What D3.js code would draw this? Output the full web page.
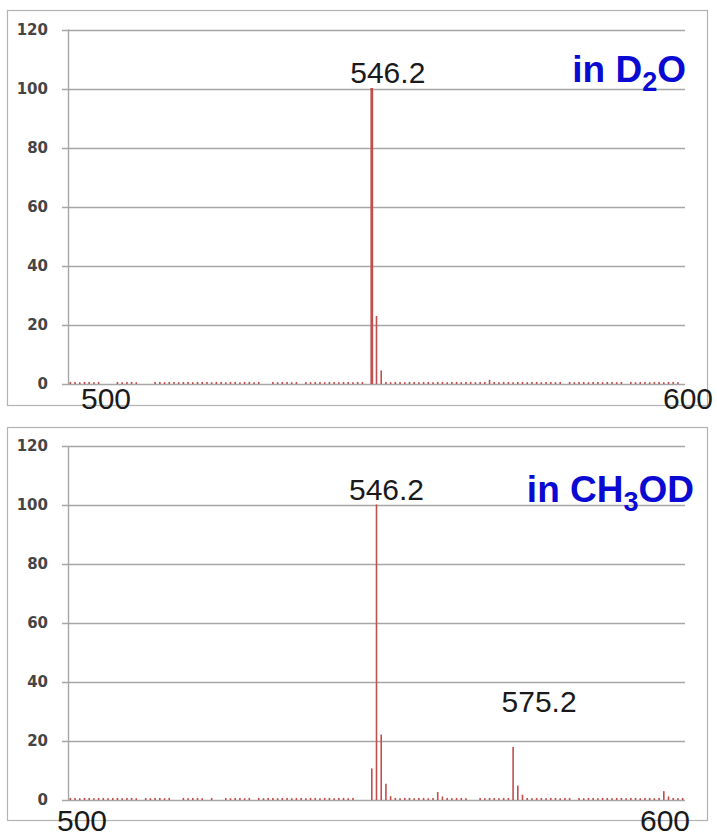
<!DOCTYPE html>
<html>
<head>
<meta charset="utf-8">
<script src="https://cdn.jsdelivr.net/npm/d3@7"></script>
<style>
  html, body { margin: 0; padding: 0; background: #fff; }
  svg { display: block; }
</style>
</head>
<body>
<svg id="chart" width="717" height="839"></svg>
<script>
// ---------- DATA ----------
const yTicks = [0, 20, 40, 60, 80, 100, 120];
const axisLabels = ["500", "600"];

// Panel 1: in D2O — m/z 482 … 612, one intensity per unit
const mzStartD2O = 482;
const intensityD2O = [
  0.5,0.5,0.4,0.5,0.5,0.4,0.5,            // 482-488
  0,0,0,                                  // 489-491
  0.5,0.4,0.5,0.5,0.4,                    // 492-496
  0,0,0,                                  // 497-499
  0.5,0.5,0.4,0.5,0.5,0.4,0.5,0.5,0.4,0.5,0.5,0.5,0.4,0.5,0.5,0.4,0.5,0.5,0.4,0.5,0.5,0.4,0.5, // 500-522
  0,0,                                    // 523-524
  0.5,0.4,0.5,0.5,0.4,0.5,                // 525-530
  0,                                      // 531
  0.5,0.4,0.5,0.5,0.4,0.5,0.5,0.4,0.5,0.5,0.4,0.5,0.5, // 532-544
  0,                                      // 545
  100, 22.8, 4.4,                         // 546-548
  0.5,0.4,0.5,0.5,0.4,0.5,0.5,0.4,0.5,0.5,0.4,0.5,0.5,0.4,0.5,0.5,0.4,0.5,0.5,0.4,0.5,0.5, // 549-570
  1.2,                                    // 571
  0.5,0.4,0.5,0.5,0.4,0.5,0.5,0.4,0.5,0.5,0.4,0.5,0.5,0.4,0.5, // 572-586
  0,                                      // 587
  0.5,0.4,0.5,0.5,0.4,0.5,0.5,0.4,0.5,0.5,0.4,0.5, // 588-599
  0,                                      // 600
  0.5,0.4,0.5,0.5,0.4,0.5,0.5,0.4,0.5,0.5,0.4, // 601-611
  0                                       // 612
];

// Panel 2: in CH3OD — m/z 481 … 611
const mzStartCH3OD = 481;
const intensityCH3OD = [
  0.5,0.5,0.4,0.5,0.5,0.4,0.5,0.5,0.4,0.5,0.5,0.4,0.5,0.5,0.4, // 481-495
  0,                                      // 496
  0.5,0.4,0.5,0.5,0.4,0.5,                // 497-502
  0,0,                                    // 503-504
  0.5,0.4,0.5,0.5,0.4,                    // 505-509
  0, 0.5, 0, 0,                           // 510-513
  0.5,0.4,0.5,0.5,0.4,0.5,                // 514-519
  0,                                      // 520
  0.5,0.4,0.5,0.5,0.4,0.5,0.5,0.4,0.5,0.5,0.4,0.5,0.5,0.4,0.5,0.5,0.4,0.5,0.5,0.4,0.5, // 521-541
  0,0,0,                                  // 542-544
  10.5, 100, 22, 5.3, 1.1,                // 545-549
  0.5,0.4,0.5,0.5,0.4,0.5,0.5,0.4,0.5,    // 550-558
  2.5, 1.0,                               // 559-560
  0.5,0.4,0.5,0.5,0.4,                    // 561-565
  0,0,                                    // 566-567
  0.5,0.4,0.5,0.5,0.4,0.5,0.5,            // 568-574
  17.8, 4.7, 1.6,                         // 575-577
  0.5,0.4,0.5,0.5,0.4,0.5,0.5,0.4,0.5,0.5, // 578-587
  0,                                      // 588
  0.5,0.4,0.5,0.5,0.4,0.5,0.5,0.4,0.5,0.5,0.4,0.5,0.5,0.4,0.5,0.5,0.4,0.5, // 589-606
  2.8, 1.0,                               // 607-608
  0.5,0.4,0.5                             // 609-611
];

const peakLabelsD2O = [{ mz: 546, text: "546.2" }];
const peakLabelsCH3OD = [{ mz: 546, text: "546.2" }, { mz: 575, text: "575.2" }];

// ---------- DRAWING ----------
const svg = d3.select("#chart");
const barColor = "#c0504d";
const gridColor = "#a6a6a6";

function toSeries(start, values) {
  return values.map((v, i) => ({ mz: start + i, y: v }));
}

function panel(cfg) {
  const g = svg.append("g");
  // outer frame
  g.append("rect")
    .attr("x", cfg.box[0] + 0.5).attr("y", cfg.box[1] + 0.5)
    .attr("width", cfg.box[2]).attr("height", cfg.box[3])
    .attr("fill", "none").attr("stroke", "#b3b3b3").attr("stroke-width", 1.2);

  const x = d3.scaleLinear().domain(cfg.xDomain).range([cfg.left, cfg.right]);
  const y = d3.scaleLinear().domain([0, 120]).range([cfg.bottom, cfg.top]);

  // gridlines
  g.append("g").selectAll("line").data(yTicks).join("line")
    .attr("x1", cfg.left - 6).attr("x2", cfg.right)
    .attr("y1", d => Math.round(y(d)) + 0.5).attr("y2", d => Math.round(y(d)) + 0.5)
    .attr("stroke", gridColor).attr("stroke-width", 1.4);

  // y axis labels
  const ax = g.append("g")
    .attr("transform", `translate(${cfg.left - 6},0)`)
    .call(d3.axisLeft(y).tickValues(yTicks).tickSize(0).tickPadding(14));
  ax.select(".domain").remove();
  ax.selectAll("text")
    .attr("font-family", "DejaVu Sans, Verdana, sans-serif")
    .attr("font-size", 15).attr("font-weight", "bold").attr("fill", "#454545");

  // y axis line
  g.append("line")
    .attr("x1", cfg.left + 0.5).attr("x2", cfg.left + 0.5)
    .attr("y1", y(120)).attr("y2", y(0))
    .attr("stroke", gridColor).attr("stroke-width", 1.4);

  // bars
  const data = toSeries(cfg.mzStart, cfg.values).filter(d => d.y > 0);
  g.append("g").selectAll("rect").data(data).join("rect")
    .attr("x", d => x(d.mz) - (d.y >= 50 && cfg.thickMain ? 1.4 : 0.8))
    .attr("width", d => (d.y >= 50 && cfg.thickMain ? 2.8 : 1.6))
    .attr("y", d => y(d.y) - 0.6)
    .attr("height", d => y(0) - y(d.y) + 0.6)
    .attr("fill", barColor);

  // peak labels
  g.append("g").selectAll("text").data(cfg.peaks).join("text")
    .attr("x", d => x(d.mz) + cfg.peakOffset[cfg.peaks.indexOf(d)])
    .attr("y", d => cfg.peakY[cfg.peaks.indexOf(d)])
    .attr("text-anchor", "middle")
    .attr("font-family", "Liberation Sans, Arial, sans-serif")
    .attr("font-size", 30).attr("fill", "#1a1a1a")
    .text(d => d.text);

  // "500" / "600" x labels
  g.append("g").selectAll("text").data(axisLabels).join("text")
    .attr("x", (d, i) => cfg.xLabelX[i])
    .attr("y", cfg.xLabelY)
    .attr("text-anchor", "middle")
    .attr("font-family", "Liberation Sans, Arial, sans-serif")
    .attr("font-size", 30).attr("fill", "#1a1a1a")
    .text(d => d);

  // title
  const t = g.append("text")
    .attr("x", cfg.titleX).attr("y", cfg.titleY)
    .attr("text-anchor", "end")
    .attr("font-family", "Liberation Sans, Arial, sans-serif")
    .attr("font-weight", "bold").attr("font-size", 37)
    .attr("fill", "#0a0ad2");
  cfg.title.forEach(p => {
    const ts = t.append("tspan").text(p.t);
    if (p.sub) ts.attr("font-size", 27).attr("dy", 9);
    else if (p.after) ts.attr("dy", -9);
  });
}

panel({
  box: [7, 10, 700, 395],
  left: 68, right: 685, top: 29.5, bottom: 384,
  xDomain: [481.5, 612.5],
  mzStart: mzStartD2O, values: intensityD2O,
  thickMain: true,
  peaks: peakLabelsD2O, peakOffset: [16], peakY: [83],
  xLabelX: [106, 688], xLabelY: 409,
  title: [{ t: "in D" }, { t: "2", sub: true }, { t: "O", after: true }],
  titleX: 686, titleY: 82
});

panel({
  box: [7, 427, 700, 393],
  left: 68, right: 685, top: 446, bottom: 800,
  xDomain: [480.5, 611.5],
  mzStart: mzStartCH3OD, values: intensityCH3OD,
  thickMain: false,
  peaks: peakLabelsCH3OD, peakOffset: [10, 26], peakY: [500, 712],
  xLabelX: [82, 665], xLabelY: 831,
  title: [{ t: "in CH" }, { t: "3", sub: true }, { t: "OD", after: true }],
  titleX: 694, titleY: 502
});
</script>
</body>
</html>
